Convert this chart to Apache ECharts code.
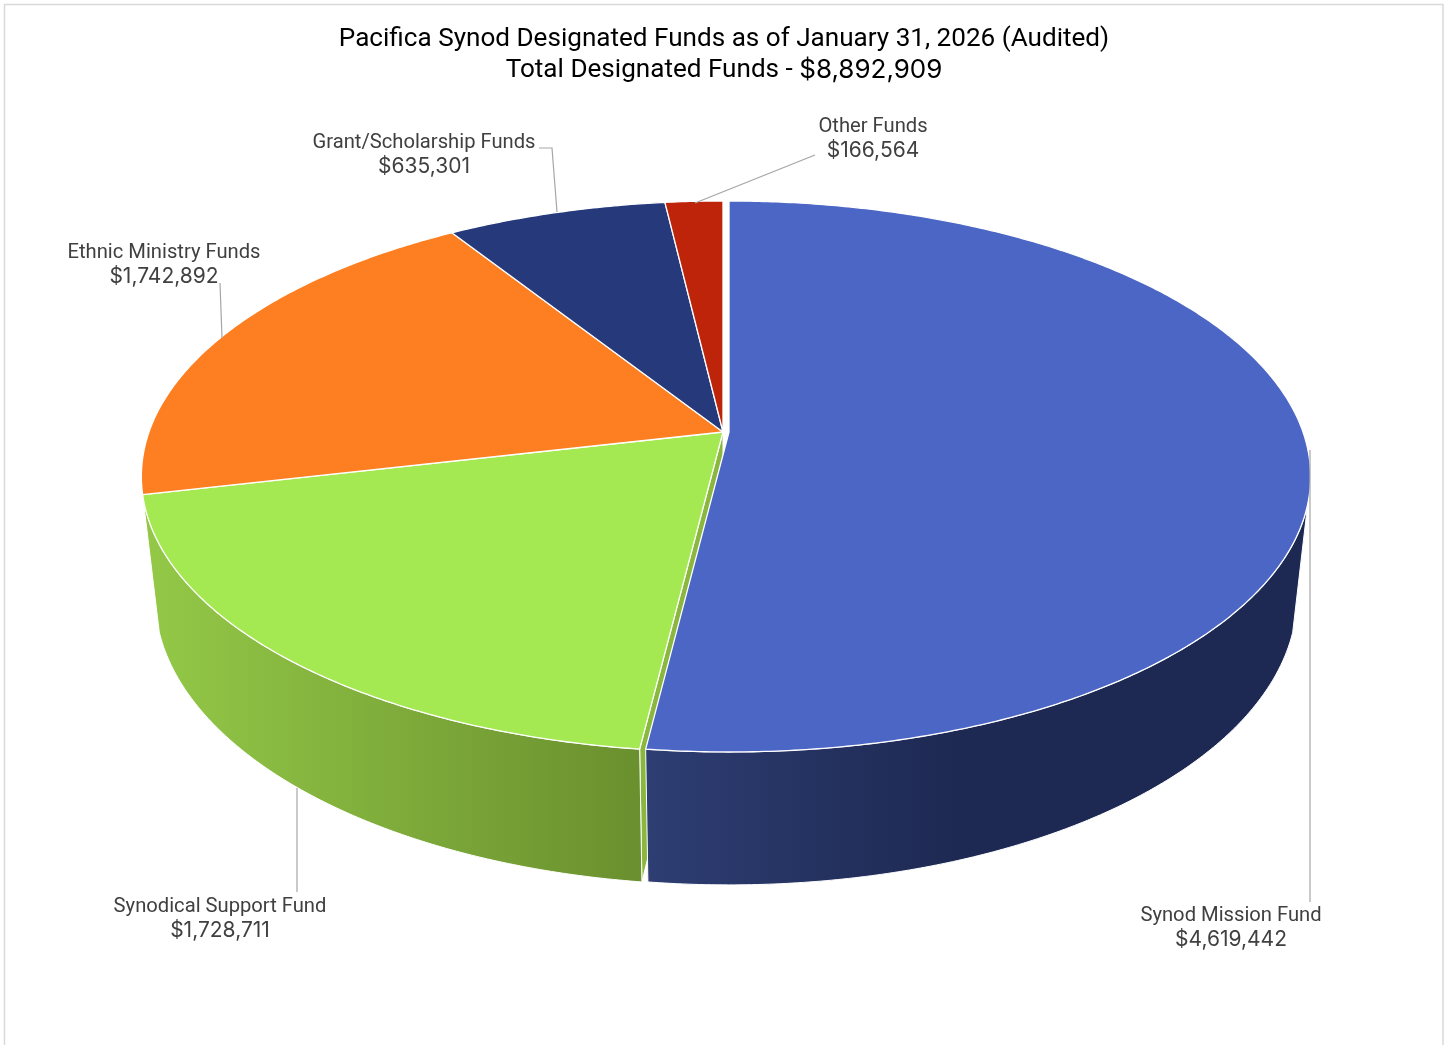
<!DOCTYPE html>
<html>
<head>
<meta charset="utf-8">
<style>html,body{margin:0;padding:0;background:#fff;overflow:hidden}#c{width:1447px;height:1045px}</style>
<script src="https://cdn.jsdelivr.net/npm/echarts@6/dist/echarts.min.js"></script>
</head>
<body>
<div id="c"></div>
<script>
const titleLine1 = 'Pacifica Synod Designated Funds as of January 31, 2026 (Audited)';
const titleLine2 = 'Total Designated Funds - ';
const titleAmount = '$8,892,909';
const categories = ['Synod Mission Fund', 'Synodical Support Fund', 'Ethnic Ministry Funds', 'Grant/Scholarship Funds', 'Other Funds'];
const values = [4619442, 1728711, 1742892, 635301, 166564];

const topColors = ['#4C66C5', '#A5E952', '#FD7F21', '#26397B', '#BE2409'];
const explode = [6, 0, 0, 0, 0];
// perspective model of the disc
const cam = { cx: 723, cy: 432, a: 574, b: 268.3, k: 0.1615, s: 1.0233, c: 122 };
// label anchors (text centre) and leader lines, per slice
const labelCentres = [[1231, 928], [220, 919], [164, 265], [424, 155], [873, 139]];
const leaders = [
  [[1310, 450], [1310, 902]],
  [[297, 788], [297, 892]],
  [[220, 283], [222, 338]],
  [[539, 148], [552, 148], [557, 212]],
  [[815, 155], [695, 203]]
];
const FONT = 'Roboto, sans-serif';
const DIGIT_FONT = 'Inter, sans-serif';

const total = values.reduce((p, q) => p + q, 0);
let running = 0;
const seriesData = values.map((v, i) => {
  const item = { name: categories[i], value: [v, running] };
  running += v;
  return item;
});

function project(theta, lower, off) {
  const u = Math.sin(theta), v = Math.cos(theta);
  const d = (lower ? cam.s : 1) + cam.k * v;
  return [cam.cx + off + cam.a * u / d, cam.cy + (-cam.b * v + (lower ? cam.c : 0)) / d];
}
function rim(t0, t1, lower, off) {
  const n = Math.max(2, Math.ceil(Math.abs(t1 - t0) / (Math.PI / 360)));
  const pts = [];
  for (let j = 0; j <= n; j++) pts.push(project(t0 + (t1 - t0) * j / n, lower, off));
  return pts;
}
function grad(x0, x1, c0, c1) {
  return { type: 'linear', x: x0, y: 0, x2: x1, y2: 0, global: true,
    colorStops: [{ offset: 0, color: c0 }, { offset: 1, color: c1 }] };
}
function sliceAngles(api) {
  const v = api.value(0), before = api.value(1);
  return [before / total * 2 * Math.PI, (before + v) / total * 2 * Math.PI];
}
const DEG = Math.PI / 180;
function wallItem(params, api) {
  const i = params.dataIndex, [t0, t1] = sliceAngles(api), off = explode[i];
  const kids = [];
  if (i === 0) {
    // outer wall, front-facing part of the largest slice
    const pts = rim(Math.max(t0, 105 * DEG), t1, false, off)
      .concat(rim(t1, Math.max(t0, 106 * DEG), true, off));
    kids.push({ type: 'polygon', z2: 3, shape: { points: pts },
      style: { fill: grad(650, 960, '#2E3D72', '#1D2952'), stroke: '#fff', lineWidth: 1 } });
  }
  if (i === 1) {
    // radial cut face, then the outer wall
    const a = project(t0, false, off), b = project(t0, true, off);
    const ap = [cam.cx + off, cam.cy], lp = [cam.cx + off, cam.cy + cam.c / cam.s];
    kids.push({ type: 'polygon', z2: 1, shape: { points: [ap, a, b, lp] },
      style: { fill: '#8AB83E', stroke: '#fff', lineWidth: 1 } });
    const pts = rim(t0, t1, false, off).concat(rim(Math.min(t1, 254 * DEG), t0, true, off));
    kids.push({ type: 'polygon', z2: 2, shape: { points: pts },
      style: { fill: grad(150, 645, '#93C847', '#6A8F2E'), stroke: '#fff', lineWidth: 1 } });
  }
  return { type: 'group', children: kids };
}
function topItem(params, api) {
  const i = params.dataIndex, [t0, t1] = sliceAngles(api), off = explode[i];
  const pts = [[cam.cx + off, cam.cy]].concat(rim(t0, t1, false, off));
  return { type: 'polygon', shape: { points: pts },
    style: { fill: topColors[i], stroke: '#fff', lineWidth: 1.3, lineJoin: 'round' } };
}
function labelItem(params, api) {
  const i = params.dataIndex;
  const c = labelCentres[i];
  return { type: 'group', children: [
    { type: 'polyline', shape: { points: leaders[i] }, style: { fill: null, stroke: '#A6A6A6', lineWidth: 1.2 } },
    { type: 'text', style: {
        x: c[0], y: c[1], align: 'center', verticalAlign: 'middle',
        text: '{n|' + categories[i] + '}\n{v|$' + api.value(0).toLocaleString('en-US') + '}',
        rich: {
          n: { font: '20.2px ' + FONT, lineHeight: 24, fill: '#404040' },
          v: { font: '21px ' + DIGIT_FONT, lineHeight: 24, fill: '#404040' }
        } } }
  ] };
}

const chart = echarts.init(document.getElementById('c'), null, { renderer: 'canvas' });
chart.setOption({
  animation: false,
  backgroundColor: '#fff',
  title: {
    text: titleLine1 + '\n' + titleLine2 + '{a|' + titleAmount + '}', left: 719, top: 19, textAlign: 'center',
    textStyle: { fontFamily: FONT, fontSize: 26.1, fontWeight: 'normal', color: '#000', lineHeight: 31,
      rich: { a: { fontFamily: DIGIT_FONT, fontSize: 26, color: '#000', lineHeight: 31 } } }
  },
  graphic: [{ type: 'rect', shape: { x: 4.5, y: 4.5, width: 1438.5, height: 1100 }, silent: true,
    style: { fill: 'none', stroke: '#D9D9D9', lineWidth: 1.5 } }],
  series: [
    { type: 'custom', name: 'walls', coordinateSystem: 'none', data: seriesData, renderItem: wallItem, silent: true, z: 2 },
    { type: 'custom', name: 'tops', coordinateSystem: 'none', data: seriesData, renderItem: topItem, silent: true, z: 3 },
    { type: 'custom', name: 'labels', coordinateSystem: 'none', data: seriesData, renderItem: labelItem, silent: true, z: 4 }
  ]
});
</script>
</body>
</html>
